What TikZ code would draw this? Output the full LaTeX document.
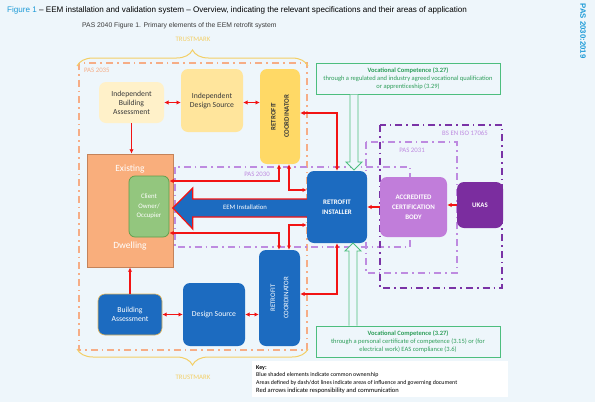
\documentclass[tikz,border=0pt]{standalone}
\usepackage{fontspec}
\setmainfont{Carlito}
\newfontfamily\titlefont{Liberation Sans}
\usetikzlibrary{arrows.meta,decorations.pathreplacing,calc}
\definecolor{bgc}{HTML}{EEF6FB}
\definecolor{orangedash}{HTML}{F6AD86}
\definecolor{trust}{HTML}{F3CF66}
\definecolor{bluebox}{HTML}{1C6BC0}
\definecolor{ycoord}{HTML}{FFD966}
\definecolor{yids}{HTML}{FFE59C}
\definecolor{yiba}{HTML}{FFF1C9}
\definecolor{dwell}{HTML}{F9AE7C}
\definecolor{dwellb}{HTML}{C4835A}
\definecolor{client}{HTML}{93C67E}
\definecolor{clientb}{HTML}{5F9D4A}
\definecolor{acbc}{HTML}{C17DDA}
\definecolor{ukasc}{HTML}{7B2D9F}
\definecolor{lpurple}{HTML}{BE8BE0}
\definecolor{dpurple}{HTML}{7A33A6}
\definecolor{redc}{HTML}{F21414}
\definecolor{greenb}{HTML}{4DBE7E}
\definecolor{greent}{HTML}{2E9E5A}
\definecolor{cyant}{HTML}{1E9BD7}
\definecolor{darkt}{HTML}{3A3A3A}
\tikzset{
  boxs/.style={rounded corners=7pt, inner sep=1pt, align=center, font=\fontsize{7.7}{9}\selectfont},
  bluebx/.style={boxs, fill=bluebox, text=white},
  capt/.style={font=\bfseries\fontsize{6.9}{8.2}\selectfont},
  rarr/.style={draw=redc, line width=1.4pt, {Latex[length=4.3pt,width=4.3pt]}-{Latex[length=4.3pt,width=4.3pt]}},
  rarrs/.style={draw=redc, line width=1.4pt, -{Latex[length=4.3pt,width=4.3pt]}},
  dashdot/.style={dash pattern=on 7pt off 4pt on 1.6pt off 4pt},
  garr/.style={draw=greenb, fill=bgc, line width=0.9pt, line join=miter},
  trbrace/.style={draw=trust, line width=1pt, decorate, decoration={brace, amplitude=16pt}},
  smalllab/.style={font=\fontsize{6.8}{8}\selectfont, inner sep=0pt},
}
\begin{document}
\begin{tikzpicture}[x=1pt,y=-1pt]
\fill[bgc] (0,0) rectangle (595,402);
\useasboundingbox (0,0) rectangle (595,402);

% titles
\node[anchor=west, inner sep=0pt, font=\titlefont\fontsize{8.1}{9}\selectfont] (title) at (7,10)
  {\textcolor{cyant}{Figure 1} – EEM installation and validation system – Overview, indicating the relevant specifications and their areas of application};
\node[rotate=-90, inner sep=0pt, text=cyant, font=\titlefont\bfseries\fontsize{7.8}{9}\selectfont] (side) at (583,31) {PAS 2030:2019};
\node[anchor=west, inner sep=0pt, text=darkt, font=\titlefont\fontsize{6.8}{8}\selectfont] (sub) at (82,26) {PAS 2040 Figure 1. Primary elements of the EEM retrofit system};

% areas
\draw[orangedash, line width=2pt, dashdot] (79,63) rectangle (307,350);
\draw[lpurple, line width=1.8pt, dashdot] (175,167) rectangle (410,247);
\draw[lpurple, line width=1.8pt, dashdot] (366,142) rectangle (457,273);
\draw[dpurple, line width=2.2pt, dashdot] (380,125) rectangle (502,288);
\node[smalllab, text=orangedash, anchor=west] (l2035) at (84,70) {PAS 2035};
\node[smalllab, text=lpurple] (l2030) at (257,174) {PAS 2030};
\node[smalllab, text=lpurple] (l2031) at (412,150) {PAS 2031};
\node[smalllab, text=lpurple] (liso) at (465,133) {BS EN ISO 17065};

% trustmark braces
\draw[trbrace] (77,66) -- (308,66);
\draw[trbrace] (308,349) -- (77,349);
\node[smalllab, text=trust] (tm1) at (193,39) {TRUSTMARK};
\node[smalllab, text=trust] (tm2) at (193,377) {TRUSTMARK};

% boxes
\node[boxs, fill=yiba, text=darkt, minimum width=65pt, minimum height=41pt] (iba) at (131.5,102.5) {Independent\\Building\\Assessment};
\node[boxs, fill=yids, text=darkt, minimum width=62pt, minimum height=63pt] (ids) at (212,100.5) {Independent\\Design Source};
\node[boxs, fill=ycoord, minimum width=40pt, minimum height=95pt] (rct) at (280,116.5) {};
\node[capt, text=darkt, rotate=90, align=center, inner sep=0pt] (rctt) at (rct.center) {RETROFIT\\[5pt]COORDINATOR};

\node[fill=dwell, draw=dwellb, line width=0.8pt, minimum width=86pt, minimum height=113pt] (dw) at (130,210.5) {};
\node[text=white, font=\fontsize{9.5}{11}\selectfont, inner sep=0pt] (dw1) at (130,169) {Existing};
\node[text=white, font=\fontsize{9.5}{11}\selectfont, inner sep=0pt] (dw2) at (130,246) {Dwelling};
\node[boxs, rounded corners=6pt, fill=client, draw=clientb, line width=0.7pt, text=white, minimum width=40pt, minimum height=61pt, font=\fontsize{6.8}{9.5}\selectfont] (cl) at (149,206.5) {Client\\Owner/\\Occupier};

\node[bluebx, font=\bfseries\fontsize{6.9}{10}\selectfont, minimum width=60pt, minimum height=72pt] (ri) at (337,207) {RETROFIT\\INSTALLER};
\node[boxs, fill=acbc, text=white, font=\bfseries\fontsize{6.9}{10}\selectfont, minimum width=67pt, minimum height=60pt] (acb) at (413.5,207) {ACCREDITED\\CERTIFICATION\\BODY};
\node[boxs, fill=ukasc, text=white, font=\bfseries\fontsize{6.9}{8}\selectfont, minimum width=46pt, minimum height=46pt] (ukas) at (480,205) {UKAS};

\node[bluebx, draw=trust!70!brown, line width=0.6pt, minimum width=64pt, minimum height=41pt] (ba) at (130,314.5) {Building\\Assessment};
\node[bluebx, minimum width=62pt, minimum height=63pt] (ds) at (214,314.5) {Design Source};
\node[bluebx, minimum width=41pt, minimum height=96pt] (rcb) at (279.5,298) {};
\node[text=white, rotate=90, align=center, inner sep=0pt, font=\fontsize{6.9}{8.2}\selectfont] (rcbt) at (rcb.center) {RETROFIT\\[5pt]COORDINATOR};

% EEM installation arrow
\draw[fill=bluebox, draw=redc, line width=1.2pt, line join=miter]
  ($(ri.west)+(0,-8)$) -- ++(-114,0) -- ++(0,-11) -- ($(ri.west)+(-134,1)$) -- ++(20,21) -- ++(0,-12) -- ($(ri.west)+(0,10)$);
\node[text=white, font=\fontsize{6.7}{8}\selectfont, inner sep=0pt] (eem) at (245,207) {EEM Installation};

% red arrows
\draw[rarr] (iba.east) -- (iba.east -| ids.west);
\draw[rarr] (ids.east |- iba.east) -- (rct.west |- iba.east);
\draw[rarrs] (iba.south) -- (iba.south |- dw.north);
\draw[rarrs] (ba.north) -- (ba.north |- dw.south);
\draw[rarr] ([yshift=3.5pt]rct.east) -| (ri.north);
\draw[rarr] ([yshift=25.5pt]cl.east) -| ([xshift=-1pt]rct.south);
\draw[rarr] ([xshift=9pt]rct.south) |- ([yshift=17pt]ri.west);
\draw[rarr] ([yshift=-26.5pt]cl.east) -| ([xshift=-0.5pt]rcb.north);
\draw[rarr] ([yshift=-18pt]ri.west) -| ([xshift=9.5pt]rcb.north);
\draw[rarr] (ri.south) |- ([yshift=4pt]rcb.east);
\draw[rarr] (ba.east) -- (ba.east -| ds.west);
\draw[rarr] (ds.east) -- (ds.east -| rcb.west);
\draw[rarrs] (ukas.west) -- (ukas.west -| acb.east);
\draw[rarrs] (acb.west) -- (acb.west -| ri.east);

% vocational boxes
\node[draw=greenb, line width=0.9pt, fill=bgc, minimum width=184pt, minimum height=31pt, align=center, text=greent, inner sep=1pt, font=\fontsize{6.5}{8.3}\selectfont] (voc1) at (408,78.5)
  {\textbf{Vocational Competence (3.27)}\\through a regulated and industry agreed vocational qualification\\or apprenticeship (3.29)};
\node[draw=greenb, line width=0.9pt, fill=bgc, minimum width=184pt, minimum height=31pt, align=center, text=greent, inner sep=1pt, font=\fontsize{6.5}{8.3}\selectfont] (voc2) at (408,341.5)
  {\textbf{Vocational Competence (3.27)}\\through a personal certificate of competence (3.15) or (for\\electrical work) EAS compliance (3.6)};

% hollow green arrows
\draw[garr] (350,94.5) -- (350,162) -- (346,162) -- (354,170) -- (362,162) -- (358,162) -- (358,94.5);
\draw[garr] (349,325.5) -- (349,251) -- (345,251) -- (353,243) -- (361,251) -- (357,251) -- (357,325.5);

% key
\node[fill=white, minimum width=256pt, minimum height=36pt] (key) at (380,379) {};
\node[anchor=north west, inner sep=0pt, align=left, font=\fontsize{5.9}{7.9}\selectfont] (keyt) at (256,365)
  {\textbf{Key:}\\Blue shaded elements indicate common ownership\\Areas defined by dash/dot lines indicate areas of influence and governing document\\{\fontsize{6.5}{7.9}\selectfont Red arrows indicate responsibility and communication}};
\end{tikzpicture}
\end{document}
